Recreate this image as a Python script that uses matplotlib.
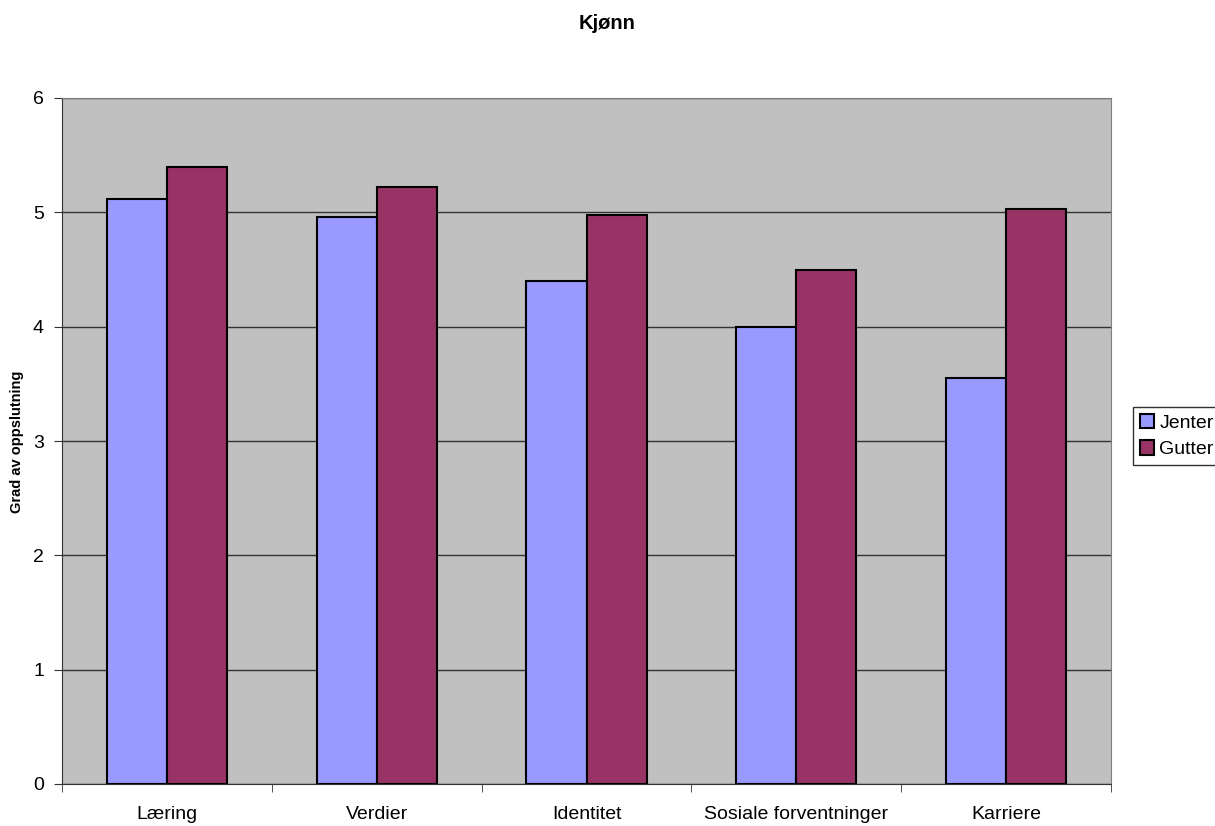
import numpy as np
import matplotlib.pyplot as plt

categories = ['Læring', 'Verdier', 'Identitet', 'Sosiale forventninger', 'Karriere']
jenter = [5.12, 4.96, 4.40, 4.00, 3.55]
gutter = [5.40, 5.22, 4.98, 4.50, 5.03]
series_names = ['Jenter', 'Gutter']

plt.rcParams['font.family'] = ['Liberation Sans', 'DejaVu Sans']

fig = plt.figure(figsize=(12.15, 8.26), dpi=100)
ax = fig.add_axes([62 / 1215, 1 - 784 / 826, 1049 / 1215, 686 / 826])
ax.set_facecolor('#C0C0C0')

x = np.arange(len(categories))
w = 0.286
ax.bar(x - w / 2, jenter, w, color='#9999FF', edgecolor='black', linewidth=1.5,
       label=series_names[0], zorder=3)
ax.bar(x + w / 2, gutter, w, color='#993366', edgecolor='black', linewidth=1.5,
       label=series_names[1], zorder=3)

ax.set_xlim(-0.5, len(categories) - 0.5)
ax.set_ylim(0, 6)
ax.set_yticks(range(7))
ax.yaxis.grid(True, color='#333333', linewidth=1, zorder=1)
ax.set_axisbelow(True)

ax.set_xticks(x)
ax.set_xticklabels(categories, fontsize=14)
ax.set_xticks(np.arange(-0.5, len(categories)), minor=True)
ax.tick_params(axis='x', which='major', length=0, pad=16)
ax.tick_params(axis='x', which='minor', length=6, color='#333333')
ax.tick_params(axis='y', length=6, labelsize=14, color='#333333', pad=7)

for s in ['top', 'right']:
    ax.spines[s].set_color('#808080')
for s in ['left', 'bottom']:
    ax.spines[s].set_color('#333333')

fig.text(17 / 1215, 1 - 442 / 826, 'Grad av oppslutning', rotation=90, ha='center',
         va='center', fontsize=10.5, fontweight='bold')
fig.text(0.5, 1 - 29 / 826, 'Kjønn', ha='center', va='baseline', fontsize=14.5,
         fontweight='bold')

fig.legend(loc='upper left', bbox_to_anchor=(1133 / 1215, 1 - 407 / 826), fontsize=14,
           frameon=True, fancybox=False, edgecolor='black', handlelength=0.75,
           handleheight=0.75, handletextpad=0.25, borderpad=0.35, labelspacing=0.45,
           borderaxespad=0)

fig.savefig('out.png', dpi=100)
